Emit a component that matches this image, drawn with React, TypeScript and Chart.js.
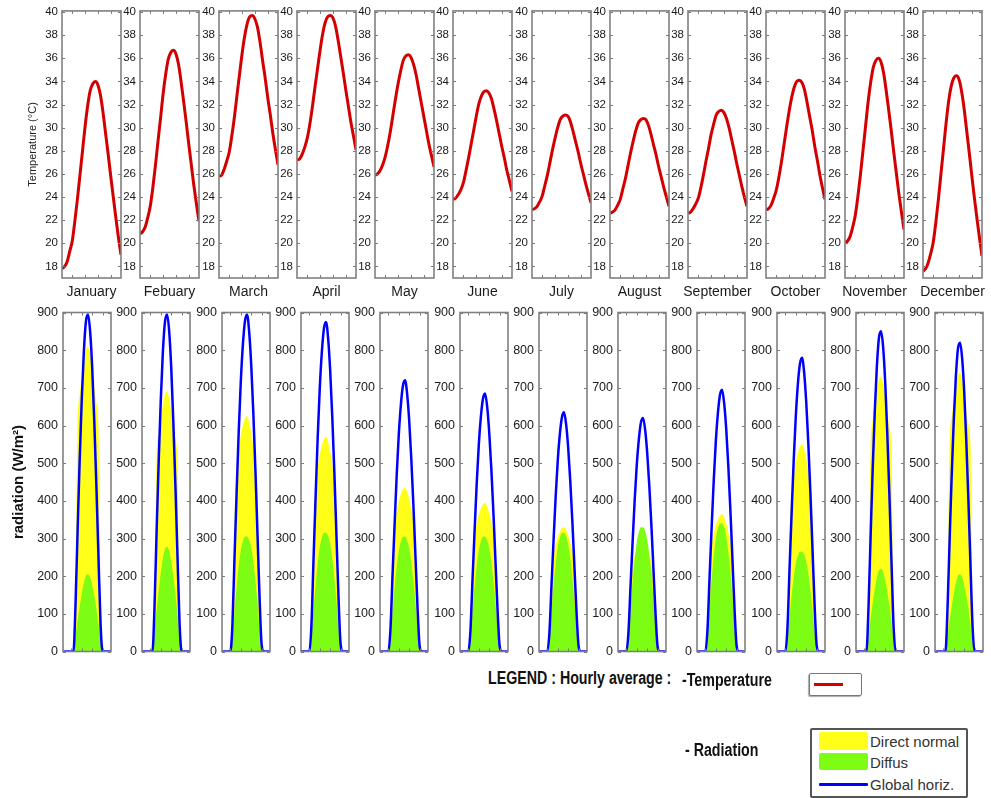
import React, { useEffect, useRef } from "react";
import { Chart, registerables } from "chart.js";

Chart.register(...registerables);

const months = ["January", "Febuary", "March", "April", "May", "June", "July", "August", "September", "October", "November", "December"];
const hours = [1, 2, 3, 4, 5, 6, 7, 8, 9, 10, 11, 12, 13, 14, 15, 16, 17, 18, 19, 20, 21, 22, 23, 24];
const hourTicks = [5, 10, 15, 20];
const temperatureTicks = [18, 20, 22, 24, 26, 28, 30, 32, 34, 36, 38, 40];
const radiationTicks = [0, 100, 200, 300, 400, 500, 600, 700, 800, 900];

// Hourly average temperature (°C), hours 1..24, one row per month
const temperature = [
  [17.8, 18.0, 18.4, 19.3, 20.2, 21.9, 23.8, 25.9, 28.0, 30.1, 31.9, 33.2, 33.8, 34.0, 33.7, 32.8, 31.3, 29.5, 27.7, 25.8, 24.0, 22.2, 20.5, 19.0],
  [20.8, 21.0, 21.4, 22.2, 23.2, 24.8, 26.7, 28.8, 30.8, 32.9, 34.6, 35.9, 36.5, 36.7, 36.4, 35.5, 34.0, 32.3, 30.5, 28.6, 26.8, 25.0, 23.4, 21.9],
  [25.8, 25.9, 26.4, 27.1, 27.9, 29.3, 30.9, 32.8, 34.6, 36.4, 37.9, 39.0, 39.6, 39.7, 39.4, 38.7, 37.4, 35.8, 34.3, 32.6, 31.1, 29.5, 28.1, 26.8],
  [27.2, 27.3, 27.7, 28.3, 29.1, 30.3, 31.8, 33.5, 35.1, 36.7, 38.1, 39.1, 39.6, 39.7, 39.5, 38.8, 37.6, 36.2, 34.8, 33.3, 31.9, 30.5, 29.3, 28.1],
  [25.9, 26.0, 26.3, 26.8, 27.5, 28.5, 29.7, 31.1, 32.5, 33.8, 34.9, 35.8, 36.2, 36.3, 36.1, 35.5, 34.6, 33.4, 32.2, 31.0, 29.8, 28.6, 27.6, 26.6],
  [23.8, 23.9, 24.2, 24.6, 25.2, 26.2, 27.3, 28.5, 29.7, 30.9, 32.0, 32.7, 33.1, 33.2, 33.0, 32.5, 31.6, 30.6, 29.5, 28.4, 27.4, 26.3, 25.4, 24.5],
  [22.9, 23.0, 23.2, 23.6, 24.1, 25.0, 25.9, 27.0, 28.1, 29.1, 30.0, 30.7, 31.0, 31.1, 31.0, 30.5, 29.7, 28.8, 27.9, 26.9, 26.0, 25.1, 24.3, 23.5],
  [22.6, 22.7, 22.9, 23.3, 23.8, 24.7, 25.6, 26.7, 27.8, 28.8, 29.7, 30.4, 30.7, 30.8, 30.7, 30.2, 29.4, 28.5, 27.6, 26.6, 25.7, 24.8, 24.0, 23.2],
  [22.6, 22.7, 23.0, 23.4, 23.9, 24.8, 25.9, 27.1, 28.2, 29.4, 30.3, 31.1, 31.4, 31.5, 31.3, 30.8, 30.0, 29.0, 28.0, 26.9, 25.9, 24.9, 24.0, 23.2],
  [22.9, 23.0, 23.3, 23.9, 24.6, 25.7, 27.0, 28.5, 30.0, 31.4, 32.6, 33.5, 34.0, 34.1, 33.9, 33.3, 32.2, 31.0, 29.8, 28.4, 27.2, 25.9, 24.8, 23.8],
  [20.0, 20.2, 20.6, 21.4, 22.4, 24.0, 25.9, 28.0, 30.1, 32.2, 33.9, 35.2, 35.8, 36.0, 35.7, 34.8, 33.3, 31.6, 29.8, 27.9, 26.1, 24.3, 22.7, 21.2],
  [17.6, 17.8, 18.3, 19.1, 20.1, 21.8, 23.8, 26.0, 28.2, 30.4, 32.3, 33.6, 34.3, 34.5, 34.2, 33.2, 31.7, 29.8, 27.9, 25.9, 24.0, 22.2, 20.5, 18.9],
];

// Hourly radiation (W/m²), hours 1..24, one row per month
const globalHoriz = [
  [0, 0, 0, 0, 0, 0, 125, 322, 510, 671, 797, 877, 895, 850, 752, 609, 439, 251, 72, 0, 0, 0, 0, 0],
  [0, 0, 0, 0, 0, 0, 120, 318, 505, 668, 795, 875, 895, 852, 755, 612, 442, 255, 75, 0, 0, 0, 0, 0],
  [0, 0, 0, 0, 0, 72, 251, 421, 582, 716, 814, 877, 895, 850, 761, 635, 483, 313, 143, 18, 0, 0, 0, 0],
  [0, 0, 0, 0, 0, 70, 245, 411, 569, 700, 796, 858, 875, 831, 744, 621, 473, 306, 140, 18, 0, 0, 0, 0],
  [0, 0, 0, 0, 0, 58, 202, 338, 468, 576, 655, 706, 720, 684, 612, 511, 389, 252, 115, 14, 0, 0, 0, 0],
  [0, 0, 0, 0, 0, 55, 192, 322, 445, 548, 623, 671, 685, 651, 582, 486, 370, 240, 110, 14, 0, 0, 0, 0],
  [0, 0, 0, 0, 0, 51, 178, 298, 413, 508, 578, 622, 635, 603, 540, 451, 343, 222, 102, 13, 0, 0, 0, 0],
  [0, 0, 0, 0, 0, 50, 174, 291, 403, 496, 564, 608, 620, 589, 527, 440, 335, 217, 99, 12, 0, 0, 0, 0],
  [0, 0, 0, 0, 0, 56, 195, 327, 452, 556, 632, 681, 695, 660, 591, 493, 375, 243, 111, 14, 0, 0, 0, 0],
  [0, 0, 0, 0, 0, 62, 218, 367, 507, 624, 710, 764, 780, 741, 663, 554, 421, 273, 125, 16, 0, 0, 0, 0],
  [0, 0, 0, 0, 0, 0, 119, 306, 485, 638, 757, 833, 850, 808, 714, 578, 417, 238, 68, 0, 0, 0, 0, 0],
  [0, 0, 0, 0, 0, 0, 115, 295, 467, 615, 730, 804, 820, 779, 689, 558, 402, 230, 66, 0, 0, 0, 0, 0],
];

const directNormal = [
  [0, 0, 0, 0, 0, 0, 97, 599, 680, 729, 770, 802, 810, 790, 749, 705, 660, 599, 81, 0, 0, 0, 0, 0],
  [0, 0, 0, 0, 0, 0, 83, 511, 580, 621, 656, 683, 690, 673, 638, 600, 562, 511, 69, 0, 0, 0, 0, 0],
  [0, 0, 0, 0, 0, 50, 344, 488, 538, 575, 600, 619, 625, 609, 581, 544, 500, 406, 75, 0, 0, 0, 0, 0],
  [0, 0, 0, 0, 0, 46, 314, 445, 490, 524, 547, 564, 570, 556, 530, 496, 456, 371, 68, 0, 0, 0, 0, 0],
  [0, 0, 0, 0, 0, 35, 239, 339, 374, 400, 418, 431, 435, 424, 405, 378, 348, 283, 52, 0, 0, 0, 0, 0],
  [0, 0, 0, 0, 0, 32, 217, 308, 340, 363, 379, 391, 395, 385, 367, 344, 316, 257, 47, 0, 0, 0, 0, 0],
  [0, 0, 0, 0, 0, 26, 182, 257, 284, 304, 317, 327, 330, 322, 307, 287, 264, 215, 40, 0, 0, 0, 0, 0],
  [0, 0, 0, 0, 0, 24, 162, 230, 254, 271, 283, 292, 295, 288, 274, 257, 236, 192, 35, 0, 0, 0, 0, 0],
  [0, 0, 0, 0, 0, 29, 201, 285, 314, 336, 350, 361, 365, 356, 339, 318, 292, 237, 44, 0, 0, 0, 0, 0],
  [0, 0, 0, 0, 0, 44, 303, 429, 473, 506, 528, 545, 550, 536, 512, 479, 440, 358, 66, 0, 0, 0, 0, 0],
  [0, 0, 0, 0, 0, 0, 88, 540, 613, 657, 694, 723, 730, 712, 675, 635, 595, 540, 73, 0, 0, 0, 0, 0],
  [0, 0, 0, 0, 0, 0, 89, 548, 622, 666, 703, 733, 740, 722, 685, 644, 603, 548, 74, 0, 0, 0, 0, 0],
];

const diffus = [
  [0, 0, 0, 0, 0, 0, 41, 82, 119, 154, 182, 201, 205, 197, 176, 148, 113, 72, 25, 0, 0, 0, 0, 0],
  [0, 0, 0, 0, 0, 0, 56, 111, 161, 209, 247, 272, 278, 267, 239, 200, 153, 97, 33, 0, 0, 0, 0, 0],
  [0, 0, 0, 0, 0, 37, 107, 171, 226, 268, 293, 305, 305, 296, 275, 238, 189, 128, 61, 0, 0, 0, 0, 0],
  [0, 0, 0, 0, 0, 38, 110, 176, 233, 277, 302, 315, 315, 306, 284, 246, 195, 132, 63, 0, 0, 0, 0, 0],
  [0, 0, 0, 0, 0, 36, 106, 170, 225, 267, 292, 304, 305, 295, 274, 237, 188, 127, 60, 0, 0, 0, 0, 0],
  [0, 0, 0, 0, 0, 37, 107, 171, 226, 268, 293, 305, 305, 296, 275, 238, 189, 128, 61, 0, 0, 0, 0, 0],
  [0, 0, 0, 0, 0, 38, 110, 176, 233, 277, 302, 315, 315, 306, 284, 246, 195, 132, 63, 0, 0, 0, 0, 0],
  [0, 0, 0, 0, 0, 40, 116, 185, 244, 290, 317, 330, 330, 320, 297, 257, 205, 139, 66, 0, 0, 0, 0, 0],
  [0, 0, 0, 0, 0, 41, 119, 190, 252, 299, 326, 340, 340, 330, 306, 265, 211, 143, 68, 0, 0, 0, 0, 0],
  [0, 0, 0, 0, 0, 32, 93, 148, 196, 233, 254, 265, 265, 257, 239, 207, 164, 111, 53, 0, 0, 0, 0, 0],
  [0, 0, 0, 0, 0, 0, 44, 88, 128, 165, 196, 216, 220, 211, 189, 158, 121, 77, 26, 0, 0, 0, 0, 0],
  [0, 0, 0, 0, 0, 0, 41, 82, 119, 154, 182, 201, 205, 197, 176, 148, 113, 72, 25, 0, 0, 0, 0, 0],
];

const FONT = "'Liberation Sans', Arial, Helvetica, sans-serif";
const TEXT = "#1a1a1a";

const topGeom = (i: number) => {
  const L = Math.round(62 + i * 78.25);
  const yw = i === 0 ? 40 : 28;
  return { left: L - yw, yw, width: yw + 59 + 16 };
};
const botGeom = (i: number) => {
  const L = Math.round(63 + i * 79.3);
  const yw = i === 0 ? 63 : 30;
  return { left: L - yw, yw, width: yw + 48 + 4 };
};

const boxPlugin = {
  id: "matlabBox",
  afterDatasetsDraw(chart: any) {
    const { ctx, chartArea: a, scales } = chart;
    const xs = scales.x;
    const ys = scales.y;
    ctx.save();
    ctx.strokeStyle = "#7a7a7a";
    ctx.lineWidth = 1;
    ctx.beginPath();
    for (const v of hourTicks) {
      const px = Math.round(xs.getPixelForValue(v)) + 0.5;
      ctx.moveTo(px, a.top);
      ctx.lineTo(px, a.top + 3);
      ctx.moveTo(px, a.bottom);
      ctx.lineTo(px, a.bottom - 3);
    }
    for (const t of ys.ticks) {
      const py = Math.round(ys.getPixelForValue(t.value)) + 0.5;
      ctx.moveTo(a.left, py);
      ctx.lineTo(a.left + 3, py);
      ctx.moveTo(a.right, py);
      ctx.lineTo(a.right - 3, py);
    }
    ctx.stroke();
    ctx.lineWidth = 1.6;
    ctx.strokeStyle = "#808080";
    ctx.strokeRect(a.left, a.top, a.right - a.left, a.bottom - a.top);
    ctx.restore();
  },
};

// Month name under each temperature panel, centred on the plot box
const monthLabelPlugin = {
  id: "monthLabel",
  afterDraw(chart: any, _args: any, opts: any) {
    if (!opts || !opts.text) return;
    const { ctx, chartArea: a } = chart;
    ctx.save();
    ctx.font = `14px ${FONT}`;
    ctx.fillStyle = TEXT;
    ctx.textAlign = "center";
    ctx.textBaseline = "middle";
    ctx.fillText(opts.text, (a.left + a.right) / 2, a.bottom + 14);
    ctx.restore();
  },
};

const toPoints = (row: number[]) => hours.map((h, k) => ({ x: h, y: row[k] }));

export default function App() {
  const topRefs = useRef<(HTMLCanvasElement | null)[]>([]);
  const botRefs = useRef<(HTMLCanvasElement | null)[]>([]);

  useEffect(() => {
    const charts: Chart[] = [];
    months.forEach((month, i) => {
      const tg = topGeom(i);
      const tc = topRefs.current[i];
      if (tc) {
        charts.push(
          new Chart(tc, {
            type: "line",
            data: {
              datasets: [
                {
                  label: "Temperature",
                  data: toPoints(temperature[i]),
                  borderColor: "#d20000",
                  borderWidth: 3,
                  pointRadius: 0,
                  fill: false,
                  cubicInterpolationMode: "monotone",
                },
              ],
            },
            options: {
              animation: false,
              responsive: false,
              events: [],
              layout: { padding: { top: 10, right: 16, left: 0, bottom: 22 } },
              plugins: {
                legend: { display: false },
                tooltip: { enabled: false },
                monthLabel: { text: month },
              },
              scales: {
                x: { type: "linear", min: 1, max: 24, display: false },
                y: {
                  min: 17,
                  max: 40.1,
                  afterBuildTicks: (s: any) => {
                    s.ticks = temperatureTicks.map((v) => ({ value: v }));
                  },
                  ticks: { font: { family: FONT, size: 11.5 }, color: TEXT, padding: 4 },
                  grid: { display: false, drawTicks: false },
                  border: { display: false },
                  title:
                    i === 0
                      ? {
                          display: true,
                          text: "Temperature (°C)",
                          font: { family: FONT, size: 11 },
                          color: "#222",
                          padding: { top: 4, bottom: 0 },
                        }
                      : { display: false },
                  afterFit: (s: any) => {
                    s.width = tg.yw;
                  },
                },
              },
            } as any,
            plugins: [boxPlugin, monthLabelPlugin],
          })
        );
      }

      const bg = botGeom(i);
      const bc = botRefs.current[i];
      if (bc) {
        charts.push(
          new Chart(bc, {
            type: "line",
            data: {
              datasets: [
                {
                  label: "Global horiz.",
                  data: toPoints(globalHoriz[i]),
                  borderColor: "#0000ff",
                  borderWidth: 2.5,
                  pointRadius: 0,
                  fill: false,
                  cubicInterpolationMode: "monotone",
                  order: 0,
                },
                {
                  label: "Diffus",
                  data: toPoints(diffus[i]),
                  borderColor: "rgba(0,0,0,0)",
                  borderWidth: 0,
                  backgroundColor: "#7dfc14",
                  pointRadius: 0,
                  fill: "origin",
                  cubicInterpolationMode: "monotone",
                  order: 1,
                },
                {
                  label: "Direct normal",
                  data: toPoints(directNormal[i]),
                  borderColor: "rgba(0,0,0,0)",
                  borderWidth: 0,
                  backgroundColor: "#ffff1a",
                  pointRadius: 0,
                  fill: "origin",
                  cubicInterpolationMode: "monotone",
                  order: 2,
                },
              ],
            },
            options: {
              animation: false,
              responsive: false,
              events: [],
              layout: { padding: { top: 10, right: 4, left: 0, bottom: 12 } },
              plugins: { legend: { display: false }, tooltip: { enabled: false } },
              scales: {
                x: { type: "linear", min: 1, max: 24, display: false },
                y: {
                  min: 0,
                  max: 900,
                  afterBuildTicks: (s: any) => {
                    s.ticks = radiationTicks.map((v) => ({ value: v }));
                  },
                  ticks: { font: { family: FONT, size: 12.5 }, color: TEXT, padding: 5 },
                  grid: { display: false, drawTicks: false },
                  border: { display: false },
                  title:
                    i === 0
                      ? {
                          display: true,
                          text: "radiation (W/m²)",
                          font: { family: FONT, size: 15, weight: "bold" },
                          color: "#111",
                          padding: { top: 10, bottom: 0 },
                        }
                      : { display: false },
                  afterFit: (s: any) => {
                    s.width = bg.yw;
                  },
                },
              },
            } as any,
            plugins: [boxPlugin],
          })
        );
      }
    });
    return () => charts.forEach((c) => c.destroy());
  }, []);

  const bold: React.CSSProperties = {
    position: "absolute",
    fontFamily: FONT,
    fontWeight: "bold",
    fontSize: 18,
    lineHeight: "20px",
    color: "#111",
    whiteSpace: "nowrap",
    transform: "scaleX(0.79)",
    transformOrigin: "left center",
  };
  const small: React.CSSProperties = {
    position: "absolute",
    left: 870,
    fontFamily: FONT,
    fontSize: 15,
    lineHeight: "18px",
    color: "#333",
    whiteSpace: "nowrap",
  };

  return (
    <div style={{ position: "absolute", left: 0, top: 0, width: 991, height: 798, background: "#fff", overflow: "hidden" }}>
      {months.map((m, i) => {
        const g = topGeom(i);
        return (
          <canvas
            key={"t" + m}
            ref={(el) => {
              topRefs.current[i] = el;
            }}
            width={g.width}
            height={300}
            style={{ position: "absolute", left: g.left, top: 0, width: g.width, height: 300 }}
          />
        );
      })}
      {months.map((m, i) => {
        const g = botGeom(i);
        return (
          <canvas
            key={"b" + m}
            ref={(el) => {
              botRefs.current[i] = el;
            }}
            width={g.width}
            height={364}
            style={{ position: "absolute", left: g.left, top: 300, width: g.width, height: 364 }}
          />
        );
      })}

      <div style={{ ...bold, left: 488, top: 668 }}>LEGEND : Hourly average :</div>
      <div style={{ ...bold, left: 682, top: 670 }}>-Temperature</div>
      <div style={{ ...bold, left: 685, top: 740 }}>- Radiation</div>

      <div
        style={{
          position: "absolute",
          left: 809,
          top: 673,
          width: 51,
          height: 21,
          border: "1.5px solid #777",
          borderRadius: 2,
          boxShadow: "-1px 1px 1px #aaa",
          background: "#fff",
        }}
      >
        <div style={{ position: "absolute", left: 4, top: 9, width: 29, height: 3, background: "#d20000" }} />
      </div>

      <div
        style={{
          position: "absolute",
          left: 810,
          top: 728,
          width: 154,
          height: 66,
          border: "2px solid #555",
          borderRadius: 2,
          background: "#fff",
        }}
      />
      <div style={{ position: "absolute", left: 819, top: 732, width: 49, height: 18, background: "#ffff1a", borderRadius: 2 }} />
      <div style={{ position: "absolute", left: 819, top: 753, width: 49, height: 17, background: "#7dfc14", borderRadius: 2 }} />
      <div style={{ position: "absolute", left: 819, top: 783, width: 49, height: 3, background: "#0000ff", borderRadius: 1 }} />
      <div style={{ ...small, top: 733 }}>Direct normal</div>
      <div style={{ ...small, top: 754 }}>Diffus</div>
      <div style={{ ...small, top: 776 }}>Global horiz.</div>
    </div>
  );
}
